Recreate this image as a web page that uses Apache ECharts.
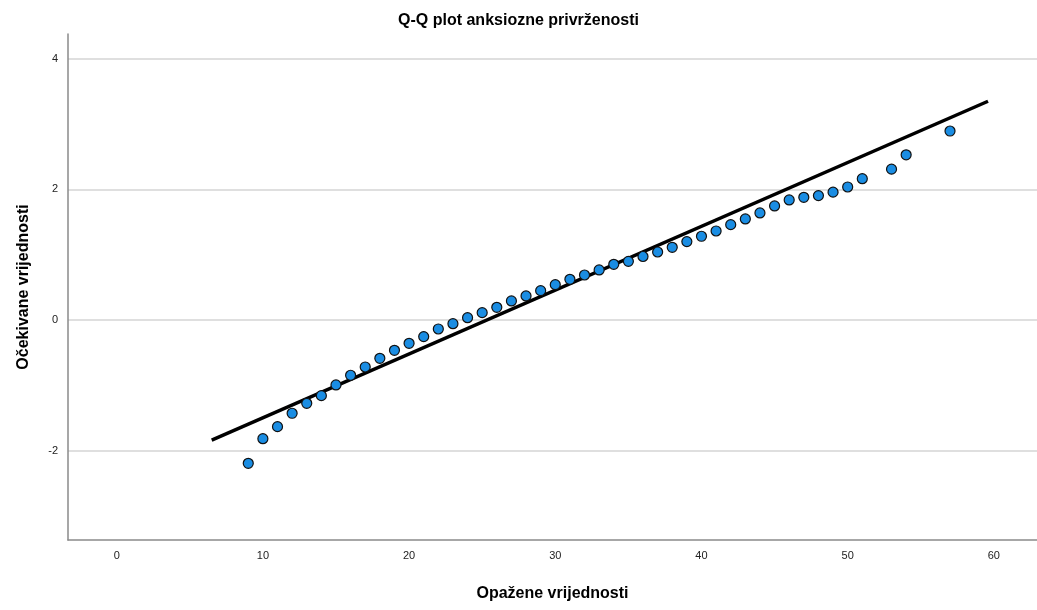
<!DOCTYPE html>
<html>
<head>
<meta charset="utf-8">
<script src="https://cdn.jsdelivr.net/npm/echarts@6/dist/echarts.min.js"></script>
<style>
html,body{margin:0;padding:0;background:#fff;}
#c{width:1037px;height:610px;}
</style>
</head>
<body>
<div id="c"></div>
<script>
const titleText = 'Q-Q plot anksiozne privrženosti';
const xTitle = 'Opažene vrijednosti';
const yTitle = 'Očekivane vrijednosti';

const observed = [9,10,11,12,13,14,15,16,17,18,19,20,21,22,23,24,25,26,27,28,29,30,31,32,33,34,35,36,37,38,39,40,41,42,43,44,45,46,47,48,49,50,51,53,54,57];
const expected = [-2.195,-1.818,-1.634,-1.429,-1.276,-1.159,-0.995,-0.847,-0.72,-0.587,-0.465,-0.357,-0.255,-0.138,-0.057,0.035,0.112,0.194,0.291,0.368,0.449,0.541,0.623,0.689,0.766,0.853,0.898,0.972,1.041,1.113,1.2,1.282,1.363,1.46,1.547,1.639,1.746,1.838,1.879,1.905,1.958,2.037,2.164,2.31,2.53,2.894];

const refLineX = [6.5, 59.6];
const refLineY = [-1.84, 3.35];

const xRange = [-3.33, 62.95];
const yRange = [-3.37, 4.38];

const points = observed.map((x, i) => [x, expected[i]]);
const refLine = refLineX.map((x, i) => [x, refLineY[i]]);

const chart = echarts.init(document.getElementById('c'), null, {renderer: 'canvas'});
chart.setOption({
  animation: false,
  backgroundColor: '#fff',
  title: {
    text: titleText,
    left: 'center',
    top: 8,
    textStyle: {fontFamily: 'Liberation Sans, Arial, sans-serif', fontSize: 16, fontWeight: 'bold', color: '#000'}
  },
  grid: {left: 68, right: 0, top: 34, bottom: 70, containLabel: false},
  xAxis: {
    type: 'value',
    min: xRange[0],
    max: xRange[1],
    name: xTitle,
    nameLocation: 'middle',
    nameGap: 46,
    nameTextStyle: {fontFamily: 'Liberation Sans, Arial, sans-serif', fontSize: 16, fontWeight: 'bold', color: '#000'},
    axisLine: {onZero: false, lineStyle: {color: '#8a8a8a', width: 1.5}},
    axisTick: {show: false},
    splitLine: {show: false},
    axisLabel: {showMinLabel: false, showMaxLabel: false, margin: 10, fontFamily: 'Liberation Sans, Arial, sans-serif', fontSize: 11, color: '#222'}
  },
  yAxis: {
    type: 'value',
    min: yRange[0],
    max: yRange[1],
    name: yTitle,
    nameLocation: 'middle',
    nameGap: 36,
    nameTextStyle: {fontFamily: 'Liberation Sans, Arial, sans-serif', fontSize: 16, fontWeight: 'bold', color: '#000'},
    axisLine: {show: true, onZero: false, lineStyle: {color: '#8a8a8a', width: 1.5}},
    axisTick: {show: false},
    splitLine: {show: true, showMinLine: false, showMaxLine: false, lineStyle: {color: '#d4d4d4', width: 1.5}},
    axisLabel: {showMinLabel: false, showMaxLabel: false, margin: 10, fontFamily: 'Liberation Sans, Arial, sans-serif', fontSize: 11, color: '#222'}
  },
  series: [
    {
      type: 'line',
      data: refLine,
      symbol: 'none',
      lineStyle: {color: '#000', width: 3.5},
      z: 2
    },
    {
      type: 'scatter',
      data: points,
      symbol: 'circle',
      symbolSize: 10,
      itemStyle: {color: '#1a8de3', borderColor: '#111', borderWidth: 1.2, opacity: 1},
      z: 3
    }
  ]
});
</script>
</body>
</html>
